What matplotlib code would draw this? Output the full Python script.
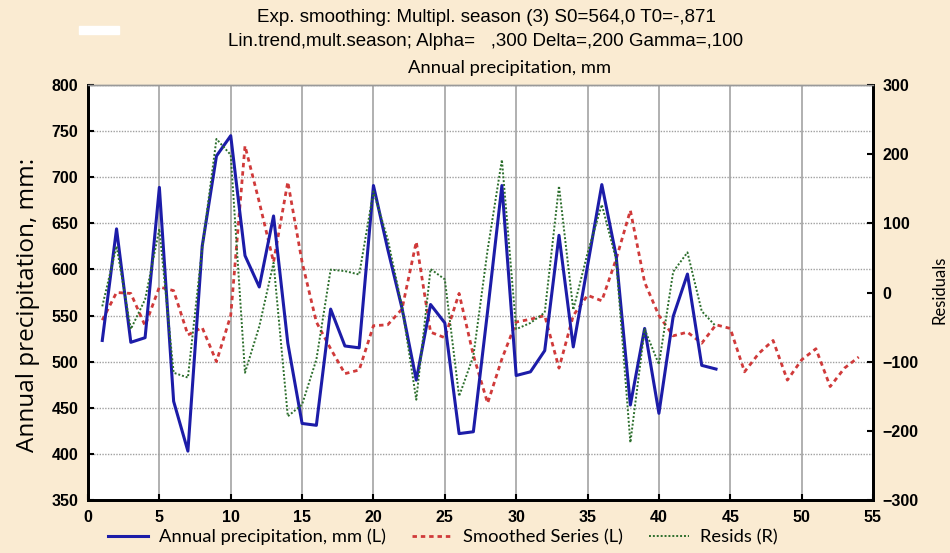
import matplotlib
matplotlib.use("Agg")
import matplotlib.pyplot as plt
from matplotlib.patches import Rectangle
import numpy as np

# observed annual precipitation, mm (left axis)
precip = [523, 644, 521, 526, 689, 457, 403, 625, 723, 745,
          615, 581, 658, 520, 433, 431, 557, 517, 515, 691,
          622, 558, 480, 562, 542, 422, 424, 555, 691, 485,
          489, 512, 637, 516, 604, 692, 615, 453, 536, 444,
          549, 595, 496, 492]

# exponential smoothing, incl. 10 forecast steps (left axis)
smoothed = [545, 575, 574, 539, 581, 577, 529, 537, 500, 550,
            734, 673, 608, 695, 608, 543, 514, 487, 491, 539,
            540, 557, 630, 532, 526, 574, 507, 455, 503, 543,
            546, 550, 493, 550, 572, 566, 611, 664, 586, 550,
            528, 532, 520, 540, 536, 489, 509, 523, 480, 502,
            514, 473, 493, 505]

# residuals (right axis)
resids = [-20, 67, -53, -10, 92, -116, -123, 64, 222, 199,
          -116, -49, 43, -179, -162, -97, 33, 31, 26, 146,
          77, -20, -155, 34, 19, -150, -92, 62, 192, -53,
          -44, -29, 154, -25, 57, 127, 48, -217, -53, -104,
          30, 58, -27, -49]

obs_idx = np.arange(1, len(precip) + 1)
smooth_idx = np.arange(1, len(smoothed) + 1)

bg = "#FAEBD2"

fig = plt.figure(figsize=(9.5, 5.53), dpi=100, facecolor=bg)
ax = fig.add_axes([88 / 950, 1 - 500 / 553, 785 / 950, 415 / 553])
ax.set_facecolor("white")

narrow = ["Liberation Sans", "DejaVu Sans"]
soft = ["Lato", "DejaVu Sans"]

l1, = ax.plot(obs_idx, precip, color="#1c1ca8", lw=2.2, zorder=4,
              label="Annual precipitation, mm (L)")
l2, = ax.plot(smooth_idx, smoothed, color="#d03a3a", lw=2.0,
              ls=(0, (1.6, 1.4)), zorder=3, label="Smoothed Series (L)")

ax.set_xlim(0, 55)
ax.set_ylim(350, 800)
ax.set_xticks(np.arange(0, 56, 5))
ax.set_yticks(np.arange(350, 801, 50))
ax.xaxis.grid(True, color="#b0b0b0", lw=1.4, ls="-")
ax.yaxis.grid(True, color="#a0a0a0", lw=1.0, ls=(0, (1, 1)))
ax.set_axisbelow(True)

ax2 = ax.twinx()
l3, = ax2.plot(obs_idx, resids, color="#2c6e2c", lw=1.4, ls=(0, (1, 1)),
               zorder=2, label="Resids (R)")
ax2.set_ylim(-300, 300)
ax2.set_yticks(np.arange(-300, 301, 100))

for a in (ax, ax2):
    for side in ("left", "bottom", "right"):
        a.spines[side].set_color("black")
        a.spines[side].set_linewidth(2)
    a.spines["top"].set_color("#999999")
    a.spines["top"].set_linewidth(1)
    a.tick_params(direction="in", length=4, width=1.5, labelsize=11.5,
                  colors="black", pad=7)
ax.tick_params(axis="x", pad=7)
for lab in ax.get_xticklabels() + ax.get_yticklabels() + ax2.get_yticklabels():
    lab.set_family(narrow)
    lab.set_fontweight("bold")

fig.text(486 / 950, 1 - 18 / 553, "Exp. smoothing: Multipl. season (3) S0=564,0 T0=-,871",
         ha="center", va="center", fontsize=13.5, family=narrow)
fig.text(486 / 950, 1 - 42 / 553, "Lin.trend,mult.season; Alpha=   ,300 Delta=,200 Gamma=,100",
         ha="center", va="center", fontsize=13.5, family=narrow)
fig.text(510 / 950, 1 - 68 / 553, "Annual precipitation, mm",
         ha="center", va="center", fontsize=13.2, family=soft)
fig.text(28 / 950, 1 - 305 / 553, "Annual precipitation, mm:", rotation=90,
         ha="center", va="center", fontsize=17.5, family=["Open Sans", "DejaVu Sans"])
fig.text(940 / 950, 1 - 290 / 553, "Residuals", rotation=90,
         ha="center", va="center", fontsize=12, family=soft)

fig.patches.append(Rectangle((79 / 950, 1 - 34 / 553), 40 / 950, 8 / 553,
                             transform=fig.transFigure, color="white", zorder=5))

leg = fig.legend(handles=[l1, l2, l3], loc="center", ncol=3,
                 bbox_to_anchor=(443 / 950, 1 - 537 / 553), frameon=False,
                 handlelength=2.2, handletextpad=0.6, columnspacing=1.4,
                 prop={"family": soft, "size": 13.2})

fig.savefig("out.png", dpi=100, facecolor=bg)
